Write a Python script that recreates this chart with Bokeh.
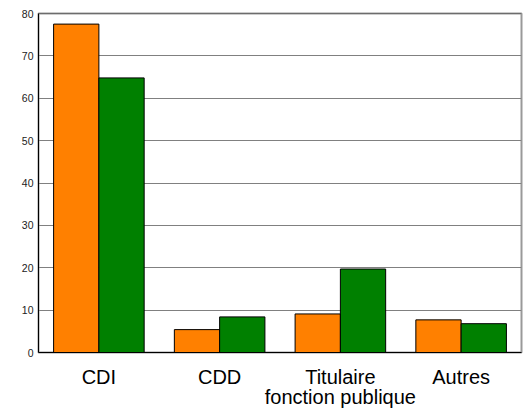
from bokeh.plotting import figure
from bokeh.models import ColumnDataSource, Range1d, FactorRange, Span
from bokeh.transform import dodge
from bokeh.embed import file_html
from bokeh.resources import INLINE

categories = ["CDI", "CDD", "Titulaire\nfonction publique", "Autres"]
series_a = [77.5, 5.4, 9.1, 7.7]
series_b = [64.8, 8.4, 19.7, 6.8]
y_ticks = [0, 10, 20, 30, 40, 50, 60, 70, 80]

source = ColumnDataSource(data=dict(cat=categories, a=series_a, b=series_b))

p = figure(x_range=FactorRange(*categories), y_range=Range1d(0, 80),
           width=528, height=412, output_backend="svg", toolbar_location=None,
           min_border_left=38, min_border_right=7, min_border_top=13, min_border_bottom=60)

p.vbar(x=dodge("cat", -0.1875, range=p.x_range), top="a", width=0.375, source=source,
       fill_color="#FF8000", line_color="black", line_width=1)
p.vbar(x=dodge("cat", 0.1875, range=p.x_range), top="b", width=0.375, source=source,
       fill_color="#008000", line_color="black", line_width=1)

p.outline_line_color = "#999999"
p.outline_line_width = 2
p.add_layout(Span(location=80, dimension="width", line_color="#404040", line_width=1))

p.xgrid.grid_line_color = None
p.ygrid.grid_line_color = "#808080"
p.ygrid.grid_line_width = 1
p.ygrid.ticker = y_ticks

p.yaxis.ticker = y_ticks
p.yaxis.major_tick_in = 0
p.yaxis.major_tick_out = 0
p.yaxis.minor_tick_line_color = None
p.yaxis.axis_line_color = "black"
p.yaxis.major_label_standoff = 5
p.yaxis.major_label_text_font = "Liberation Sans"
p.yaxis.major_label_text_font_size = "10.5px"
p.yaxis.major_label_text_color = "#222222"

p.xaxis.major_tick_in = 0
p.xaxis.major_tick_out = 0
p.xaxis.axis_line_color = "black"
p.xaxis.major_label_standoff = 13
p.xaxis.major_label_text_font = "Liberation Sans"
p.xaxis.major_label_text_font_size = "20px"
p.xaxis.major_label_text_line_height = 0.95
p.xaxis.major_label_text_color = "black"

open("out.html", "w").write(file_html(p, INLINE))
